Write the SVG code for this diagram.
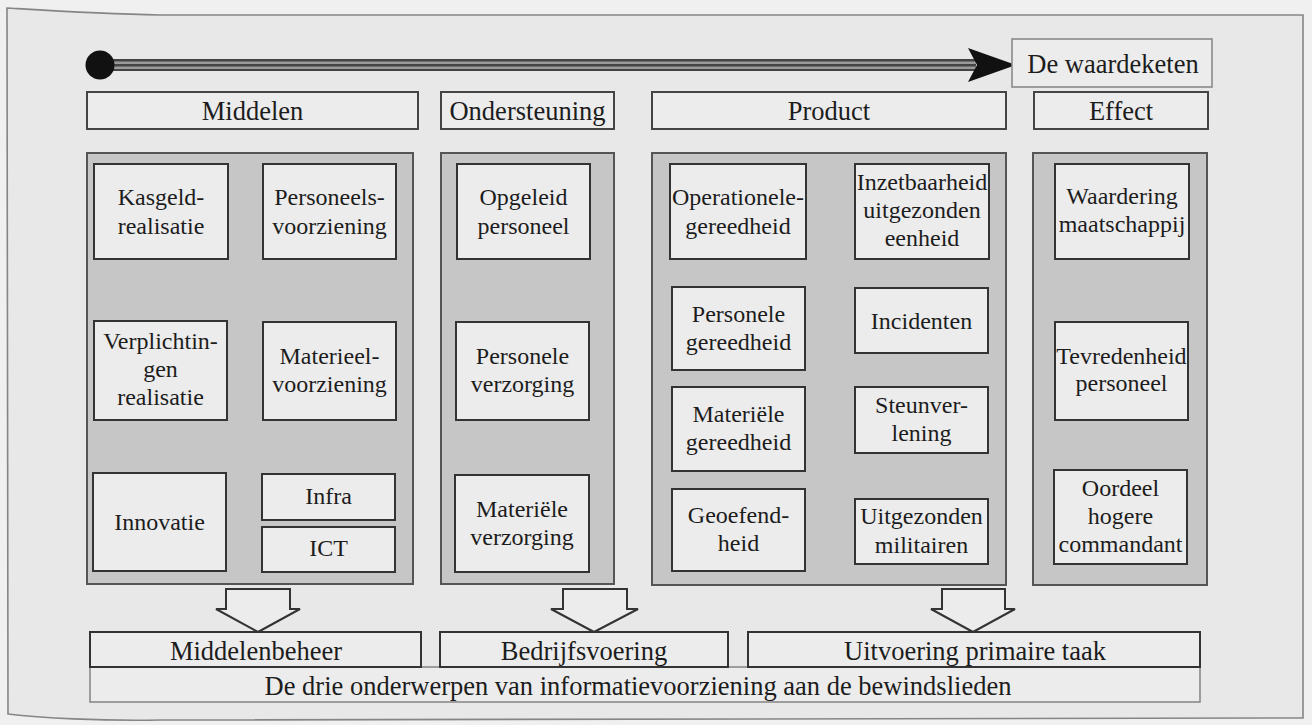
<svg xmlns="http://www.w3.org/2000/svg" width="1312" height="725" viewBox="0 0 1312 725">
<style>
text{font-family:"Liberation Serif","Times New Roman",serif;fill:#1c1c1c;text-anchor:middle}
.t{font-size:24px}
.h{font-size:26.5px}
.box{fill:#ececec;stroke:#333;stroke-width:2}
.panel{fill:#c6c6c6;stroke:#555;stroke-width:2}
.hdr{fill:#ececec;stroke:#444;stroke-width:2}
.light{fill:#ececec;stroke:#8a8a8a;stroke-width:1.6}
.down{fill:#ececec;stroke:#333;stroke-width:2;stroke-linejoin:miter}
</style>
<rect x="0" y="0" width="1312" height="725" fill="#f0f0f0"/>
<path d="M7,8 C40,10 100,14 160,15 L1303,15 L1303,718 L160,720 C100,721 40,718 8,714 Z" fill="#e8e8e8" stroke="#858585" stroke-width="1.6"/>

<g id="connectors">
  <rect x="100" y="59" width="876" height="12" fill="#444"/>
  <rect x="112" y="61.5" width="864" height="2.5" fill="#9a9a9a"/>
  <rect x="112" y="66.5" width="864" height="2.5" fill="#9a9a9a"/>
  <circle cx="100" cy="65" r="14.5" fill="#111"/>
  <polygon points="968,48 1016,65 968,82 977,65" fill="#111"/>
  <polygon class="down" points="226,589 290,589 290,609 300,609 258,632 216,609 226,609"/>
  <polygon class="down" points="563,589 627,589 627,609 638,609 594,632 551,609 563,609"/>
  <polygon class="down" points="942,589 1005,589 1005,609 1015,609 973,632 931,609 942,609"/>
</g>

<g id="waardeketen">
  <rect class="light" x="1012" y="39" width="200" height="48"/>
  <text class="h" x="1113" y="73">De waardeketen</text>
</g>

<g id="hdr-middelen"><rect class="hdr" x="87" y="92" width="331" height="37"/><text class="h" x="252.5" y="119.5">Middelen</text></g>
<g id="hdr-ondersteuning"><rect class="hdr" x="441" y="92" width="173" height="37"/><text class="h" x="527.5" y="119.5">Ondersteuning</text></g>
<g id="hdr-product"><rect class="hdr" x="652" y="92" width="354" height="37"/><text class="h" x="829" y="119.5">Product</text></g>
<g id="hdr-effect"><rect class="hdr" x="1034" y="92" width="174" height="37"/><text class="h" x="1121" y="119.5">Effect</text></g>

<g id="panel-middelen"><rect class="panel" x="87" y="153" width="326" height="431"/></g>
<g id="panel-ondersteuning"><rect class="panel" x="441" y="153" width="173" height="431"/></g>
<g id="panel-product"><rect class="panel" x="652" y="153" width="354" height="432"/></g>
<g id="panel-effect"><rect class="panel" x="1033" y="153" width="174" height="432"/></g>

<g id="kasgeld"><rect class="box" x="94" y="164" width="134" height="95"/><text class="t" x="161" y="204.5">Kasgeld-</text><text class="t" x="161" y="233.5">realisatie</text></g>
<g id="personeels"><rect class="box" x="263" y="164" width="133" height="95"/><text class="t" x="329.5" y="204.5">Personeels-</text><text class="t" x="329.5" y="233.5">voorziening</text></g>
<g id="verplichtingen"><rect class="box" x="94" y="321" width="133" height="99"/><text class="t" x="160.5" y="348.5">Verplichtin-</text><text class="t" x="160.5" y="376.5">gen</text><text class="t" x="160.5" y="404.5">realisatie</text></g>
<g id="materieel"><rect class="box" x="263" y="322" width="133" height="98"/><text class="t" x="329.5" y="364">Materieel-</text><text class="t" x="329.5" y="392">voorziening</text></g>
<g id="innovatie"><rect class="box" x="93" y="473" width="133" height="98"/><text class="t" x="159.5" y="530">Innovatie</text></g>
<g id="infra"><rect class="box" x="262" y="474" width="133" height="46"/><text class="t" x="328.5" y="504">Infra</text></g>
<g id="ict"><rect class="box" x="262" y="527" width="133" height="45"/><text class="t" x="328.5" y="556">ICT</text></g>

<g id="opgeleid"><rect class="box" x="457" y="164" width="133" height="95"/><text class="t" x="523.5" y="204.5">Opgeleid</text><text class="t" x="523.5" y="233.5">personeel</text></g>
<g id="pers-verzorging"><rect class="box" x="456" y="322" width="133" height="98"/><text class="t" x="522.5" y="364">Personele</text><text class="t" x="522.5" y="392">verzorging</text></g>
<g id="mat-verzorging"><rect class="box" x="455" y="475" width="134" height="97"/><text class="t" x="522" y="517">Materiële</text><text class="t" x="522" y="545">verzorging</text></g>

<g id="operationele"><rect class="box" x="670" y="164" width="136" height="95"/><text class="t" x="738" y="204.5">Operationele-</text><text class="t" x="738" y="233.5">gereedheid</text></g>
<g id="inzetbaarheid"><rect class="box" x="855" y="164" width="134" height="95"/><text class="t" x="922" y="189.5">Inzetbaarheid</text><text class="t" x="922" y="217.5">uitgezonden</text><text class="t" x="922" y="245.5">eenheid</text></g>
<g id="pers-gereedheid"><rect class="box" x="672" y="287" width="133" height="83"/><text class="t" x="738.5" y="321.5">Personele</text><text class="t" x="738.5" y="349.5">gereedheid</text></g>
<g id="incidenten"><rect class="box" x="855" y="288" width="133" height="65"/><text class="t" x="921.5" y="328.5">Incidenten</text></g>
<g id="mat-gereedheid"><rect class="box" x="672" y="387" width="133" height="84"/><text class="t" x="738.5" y="422">Materiële</text><text class="t" x="738.5" y="450">gereedheid</text></g>
<g id="steunverlening"><rect class="box" x="855" y="387" width="133" height="66"/><text class="t" x="921.5" y="413">Steunver-</text><text class="t" x="921.5" y="441">lening</text></g>
<g id="geoefendheid"><rect class="box" x="672" y="489" width="133" height="82"/><text class="t" x="738.5" y="523">Geoefend-</text><text class="t" x="738.5" y="551">heid</text></g>
<g id="uitgezonden"><rect class="box" x="855" y="499" width="133" height="65"/><text class="t" x="921.5" y="524">Uitgezonden</text><text class="t" x="921.5" y="552.5">militairen</text></g>

<g id="waardering"><rect class="box" x="1055" y="164" width="134" height="95"/><text class="t" x="1122" y="204">Waardering</text><text class="t" x="1122" y="232">maatschappij</text></g>
<g id="tevredenheid"><rect class="box" x="1055" y="322" width="133" height="98"/><text class="t" x="1121.5" y="364">Tevredenheid</text><text class="t" x="1121.5" y="391">personeel</text></g>
<g id="oordeel"><rect class="box" x="1054" y="470" width="133" height="94"/><text class="t" x="1120.5" y="496">Oordeel</text><text class="t" x="1120.5" y="523.5">hogere</text><text class="t" x="1120.5" y="552">commandant</text></g>

<g id="caption"><rect class="light" x="90" y="667" width="1110" height="35"/><text class="h" x="638" y="694.5">De drie onderwerpen van informatievoorziening aan de bewindslieden</text></g>
<g id="middelenbeheer"><rect class="box" x="90" y="632" width="331" height="35"/><text class="h" x="256" y="659.5">Middelenbeheer</text></g>
<g id="bedrijfsvoering"><rect class="box" x="440" y="632" width="288" height="35"/><text class="h" x="584" y="659.5">Bedrijfsvoering</text></g>
<g id="uitvoering"><rect class="box" x="748" y="632" width="452" height="35"/><text class="h" x="975" y="659.5">Uitvoering primaire taak</text></g>
</svg>
